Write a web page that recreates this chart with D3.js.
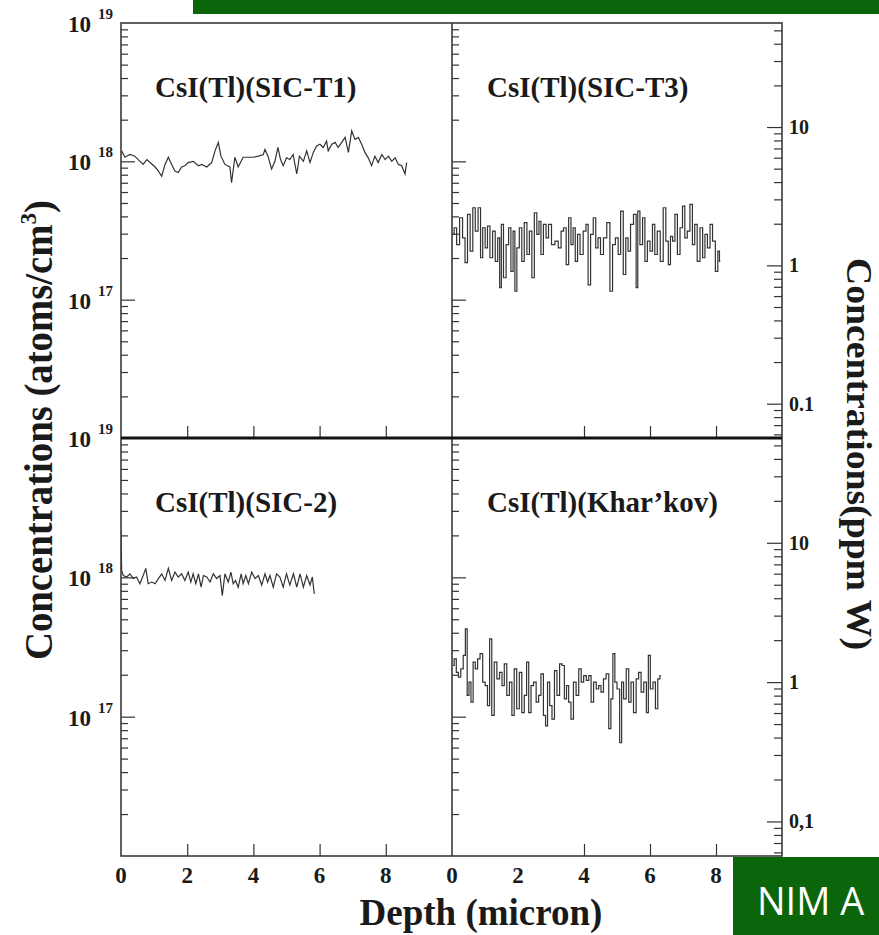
<!DOCTYPE html>
<html>
<head>
<meta charset="utf-8">
<script src="https://cdn.jsdelivr.net/npm/d3@7"></script>
<style>
  body { margin: 0; background: #fff; }
  svg text { font-family: "Liberation Serif", "Times New Roman", serif; font-weight: bold; fill: #1a1a1a; }
</style>
</head>
<body>
<svg width="879" height="935"></svg>
<script>
// Concentration profiles, depth in micron, concentration in units of 1e17 atoms/cm3
const t1Depth = [0.02,0.12,0.27,0.42,0.52,0.67,0.78,0.88,1.03,1.13,1.23,1.33,1.43,1.53,1.63,1.73,1.83,1.93,2.03,2.18,
  2.34,2.44,2.59,2.74,2.84,2.94,3.02,3.14,3.29,3.34,3.44,3.54,3.69,3.85,4.00,4.15,4.30,4.35,4.44,4.55,
  4.65,4.74,4.82,4.90,5.00,5.10,5.20,5.31,5.39,5.51,5.61,5.71,5.81,5.91,6.01,6.11,6.21,6.26,6.37,6.47,
  6.56,6.67,6.77,6.87,6.97,7.07,7.17,7.27,7.37,7.47,7.57,7.67,7.77,7.88,7.98,8.08,8.18,8.28,8.38,8.48,8.58,8.63];
const t1Conc = [11.9,10.7,11.2,10.9,10.3,9.5,10.3,9.8,9.1,8.5,7.8,9.5,10.7,9.5,8.5,8.3,9.1,9.3,9.8,10.0,
  9.3,9.5,9.1,9.8,11.9,13.7,10.9,9.5,9.1,7.0,10.7,9.1,10.7,10.7,10.7,10.9,11.2,12.2,10.9,8.8,
  10.0,12.6,10.3,9.3,10.6,10.3,11.2,8.1,10.9,10.0,11.9,9.8,11.6,12.9,13.3,12.6,14.0,11.9,13.3,13.7,
  12.6,13.7,14.9,11.6,16.6,14.4,14.9,13.3,11.6,10.6,9.3,10.9,9.8,11.2,10.3,10.9,10.0,10.6,9.5,9.3,8.1,9.8];

const t3Depth = [0.03,0.10,0.18,0.28,0.36,0.43,0.51,0.59,0.67,0.74,0.84,0.89,0.97,1.04,1.11,1.19,1.27,1.35,1.42,1.47,
  1.52,1.60,1.68,1.75,1.82,1.88,1.93,2.00,2.08,2.15,2.23,2.31,2.38,2.46,2.53,2.61,2.66,2.73,2.81,2.89,
  2.96,3.07,3.17,3.27,3.34,3.42,3.50,3.57,3.64,3.70,3.77,3.84,3.92,4.03,4.09,4.16,4.24,4.32,4.39,4.46,
  4.54,4.64,4.74,4.83,4.90,5.00,5.07,5.15,5.23,5.30,5.37,5.45,5.55,5.61,5.65,5.74,5.81,5.88,5.96,6.04,
  6.11,6.18,6.26,6.36,6.44,6.52,6.59,6.65,6.72,6.79,6.87,6.95,7.02,7.09,7.17,7.25,7.32,7.39,7.47,7.56,
  7.63,7.70,7.78,7.86,7.93,8.03,8.08,8.13];
const t3Conc = [2.96,3.31,2.50,3.91,2.80,1.85,4.13,2.24,4.62,3.13,4.62,2.01,3.31,2.37,3.40,2.01,3.13,1.89,2.80,1.22,
  3.50,1.44,2.50,3.31,1.60,3.13,1.15,2.37,3.31,1.89,3.60,2.12,3.13,1.44,4.25,2.96,3.69,2.12,3.50,2.80,
  3.50,2.50,2.65,2.37,3.13,3.31,1.79,3.91,2.50,3.31,1.89,2.96,2.12,3.13,3.50,1.28,2.96,3.91,2.37,2.80,
  2.12,2.80,3.60,1.15,2.50,2.80,2.12,4.36,1.52,2.80,2.24,3.50,4.13,1.22,4.36,2.50,3.91,1.89,2.65,2.24,
  3.50,2.12,3.13,1.89,4.62,2.65,1.79,2.87,2.65,4.13,2.12,3.31,4.74,2.80,3.13,4.88,2.50,3.50,1.89,3.31,
  2.01,2.96,2.37,3.50,2.65,1.60,2.24,1.89];

const s2Depth = [0,0.02,0.07,0.17,0.27,0.37,0.47,0.57,0.67,0.75,0.82,0.93,1.03,1.13,1.23,1.33,1.43,1.53,1.63,1.73,
  1.83,1.93,2.03,2.11,2.18,2.26,2.34,2.42,2.49,2.59,2.69,2.79,2.89,2.99,3.06,3.14,3.24,3.32,3.39,3.46,
  3.54,3.63,3.69,3.77,3.85,3.95,4.05,4.15,4.25,4.35,4.43,4.50,4.60,4.70,4.80,4.90,5.00,5.10,5.21,5.31,
  5.41,5.51,5.61,5.71,5.78,5.84];
const s2Conc = [21.8,11.2,10.3,10.05,10.6,9.8,10.05,9.0,10.3,11.6,9.0,9.25,9.0,9.8,10.6,9.5,11.6,9.5,10.9,10.05,
  10.6,9.5,10.9,9.25,10.6,9.0,10.6,8.5,10.3,10.05,9.25,10.6,9.8,10.3,7.4,10.6,9.25,10.9,9.0,9.5,
  8.5,10.6,9.0,10.3,9.0,10.9,9.8,10.3,8.8,10.6,9.25,10.3,8.5,10.6,10.05,8.5,10.6,8.8,10.6,8.5,
  10.6,8.5,10.3,8.8,10.05,7.6];

const khDepth = [0.03,0.10,0.16,0.23,0.30,0.38,0.43,0.49,0.54,0.61,0.67,0.74,0.81,0.89,0.97,1.04,1.11,1.17,1.24,1.32,
  1.40,1.48,1.55,1.62,1.70,1.78,1.85,1.92,2.00,2.08,2.15,2.23,2.29,2.36,2.43,2.51,2.59,2.66,2.73,2.81,
  2.86,2.93,2.99,3.07,3.14,3.22,3.30,3.37,3.44,3.50,3.57,3.64,3.72,3.80,3.88,3.95,4.03,4.11,4.18,4.25,
  4.33,4.41,4.48,4.55,4.63,4.71,4.79,4.84,4.91,4.96,5.04,5.12,5.16,5.24,5.32,5.39,5.46,5.54,5.62,5.69,
  5.77,5.85,5.93,5.97,6.05,6.13,6.20,6.27,6.33];
const khConc = [2.33,2.60,2.08,1.92,2.20,2.75,4.27,1.42,1.77,1.27,2.46,2.20,2.60,2.83,1.77,1.67,1.20,3.62,1.02,2.46,
  1.87,2.08,1.67,2.39,1.42,1.77,1.02,2.20,1.14,2.08,1.07,1.42,2.46,1.07,1.67,1.77,1.27,1.42,2.03,1.02,
  0.86,1.77,1.20,0.96,2.14,1.42,2.39,2.33,1.34,1.67,1.27,0.96,1.77,1.42,2.20,1.77,1.97,1.82,1.97,1.27,
  1.77,1.58,1.67,1.50,1.87,2.03,0.82,1.34,2.83,1.77,1.58,0.65,1.77,1.34,2.20,1.27,1.77,1.07,1.87,2.08,
  1.50,1.77,1.07,2.75,1.58,1.77,1.14,1.87,1.97];

const panelTitles = ["CsI(Tl)(SIC-T1)", "CsI(Tl)(SIC-T3)", "CsI(Tl)(SIC-2)", "CsI(Tl)(Khar\u2019kov)"];
const concLabels = [1e19, 1e18, 1e17];
const ppmLabels = [[10, "10"], [1, "1"], [0.1, "0.1"]];
const ppmLabelsLow = [[10, "10"], [1, "1"], [0.1, "0,1"]];
const depthLabels = [0, 2, 4, 6, 8];

const svg = d3.select("svg");
const cols = [[121, 452], [452, 782]];
const rows = [[23, 438], [438, 856]];
const ppmFactor = 1.77e17; // atoms/cm3 for 1 ppmW

const xScales = cols.map(c => d3.scaleLinear().domain([0, 10]).range(c));
const yScales = rows.map(r => d3.scaleLog().domain([1e16, 1e19]).range([r[1], r[0]]));
const ppmScales = rows.map(r => d3.scaleLog().domain([1e16 / ppmFactor, 1e19 / ppmFactor]).range([r[1], r[0]]));

const isMajor = v => Math.abs(Math.log10(v) - Math.round(Math.log10(v))) < 1e-6;

const panels = [
  {title: panelTitles[0], depth: t1Depth, conc: t1Conc, col: 0, row: 0, curve: d3.curveLinear},
  {title: panelTitles[1], depth: t3Depth, conc: t3Conc, col: 1, row: 0, curve: d3.curveStep},
  {title: panelTitles[2], depth: s2Depth, conc: s2Conc, col: 0, row: 1, curve: d3.curveLinear},
  {title: panelTitles[3], depth: khDepth, conc: khConc, col: 1, row: 1, curve: d3.curveStep}
];

// green banners
svg.append("rect").attr("x", 193).attr("y", 0).attr("width", 686).attr("height", 14).attr("fill", "#0b650b");
svg.append("rect").attr("x", 733).attr("y", 857).attr("width", 146).attr("height", 78).attr("fill", "#0b650b");
svg.append("text").attr("x", 757).attr("y", 915)
  .style("font-family", "'Open Sans', 'Noto Sans', sans-serif").style("font-weight", "normal")
  .style("font-size", "38px").style("fill", "#fff").text("NIM A");

function ticks(axis, x, y) {
  svg.append("g").attr("transform", `translate(${x},${y})`).call(axis)
    .call(g => g.select(".domain").remove())
    .call(g => g.selectAll("text").remove())
    .selectAll("line").attr("stroke", "#333").attr("stroke-width", 1.2);
}

panels.forEach((p, i) => {
  const x = xScales[p.col], y = yScales[p.row];
  const clipId = "clip" + i;
  svg.append("clipPath").attr("id", clipId).append("rect")
    .attr("x", cols[p.col][0]).attr("y", rows[p.row][0])
    .attr("width", cols[p.col][1] - cols[p.col][0]).attr("height", rows[p.row][1] - rows[p.row][0]);

  const line = d3.line().x(d => x(d[0])).y(d => y(d[1] * 1e17)).curve(p.curve);
  svg.append("path").datum(d3.zip(p.depth, p.conc))
    .attr("clip-path", `url(#${clipId})`)
    .attr("fill", "none").attr("stroke", "#333").attr("stroke-width", 1.2)
    .attr("d", line);

  // y ticks on the panel's left edge, pointing inward
  const all = y.ticks();
  ticks(d3.axisRight(y).tickValues(all.filter(v => !isMajor(v))).tickSize(7), cols[p.col][0], 0);
  ticks(d3.axisRight(y).tickValues([1e17, 1e18]).tickSize(14), cols[p.col][0], 0);

  // x ticks on bottom edge, pointing up
  ticks(d3.axisTop(x).tickValues(p.col === 0 ? [2, 4, 6, 8] : [4, 6, 8]).tickSize(12), 0, rows[p.row][1]);

  svg.append("text").attr("x", p.col === 0 ? 155 : 487).attr("y", rows[p.row][0] + 74)
    .style("font-size", "29px").text(p.title);
});

// right ppmW axis
rows.forEach((r, ri) => {
  const s = ppmScales[ri];
  const all = s.ticks().filter(v => s(v) >= r[0] && s(v) <= r[1]);
  ticks(d3.axisLeft(s).tickValues(all.filter(v => !isMajor(v))).tickSize(8), 782, 0);
  ticks(d3.axisLeft(s).tickValues([0.1, 1, 10]).tickSize(15), 782, 0);
  (ri === 0 ? ppmLabels : ppmLabelsLow).forEach(([v, t]) => {
    svg.append("text").attr("x", 789).attr("y", s(v) + 7).style("font-size", "20px").text(t);
  });

  // left concentration labels 10^n
  concLabels.forEach(v => {
    const yy = yScales[ri](v);
    svg.append("text").attr("x", 91).attr("y", yy + 9).attr("text-anchor", "end")
      .style("font-size", "23px").text("10");
    svg.append("text").attr("x", 98).attr("y", yy - 4)
      .style("font-size", "15px").text(Math.round(Math.log10(v)));
  });
});

// x tick labels along the bottom
cols.forEach((c, ci) => {
  depthLabels.forEach(v => {
    svg.append("text").attr("x", xScales[ci](v)).attr("y", 883).attr("text-anchor", "middle")
      .style("font-size", "23px").text(v);
  });
});

// frame
svg.append("rect").attr("x", 121).attr("y", 23).attr("width", 661).attr("height", 833)
  .attr("fill", "none").attr("stroke", "#3a3a3a").attr("stroke-width", 1.6);
svg.append("line").attr("x1", 452).attr("x2", 452).attr("y1", 23).attr("y2", 856)
  .attr("stroke", "#3a3a3a").attr("stroke-width", 1.6);
svg.append("line").attr("x1", 121).attr("x2", 782).attr("y1", 438).attr("y2", 438)
  .attr("stroke", "#111").attr("stroke-width", 3);

// axis titles
svg.append("text").attr("transform", "translate(52,430) rotate(-90)").attr("text-anchor", "middle")
  .attr("textLength", 460).attr("lengthAdjust", "spacingAndGlyphs")
  .style("font-size", "40px")
  .call(t => {
    t.append("tspan").text("Concentrations (atoms/cm");
    t.append("tspan").attr("dy", -16).style("font-size", "24px").text("3");
    t.append("tspan").attr("dy", 16).text(")");
  });

svg.append("text").attr("transform", "translate(847,454) rotate(90)").attr("text-anchor", "middle")
  .attr("textLength", 392).attr("lengthAdjust", "spacingAndGlyphs")
  .style("font-size", "36px").text("Concentrations(ppm W)");

svg.append("text").attr("x", 481).attr("y", 925).attr("text-anchor", "middle")
  .style("font-size", "37px").text("Depth (micron)");
</script>
</body>
</html>
